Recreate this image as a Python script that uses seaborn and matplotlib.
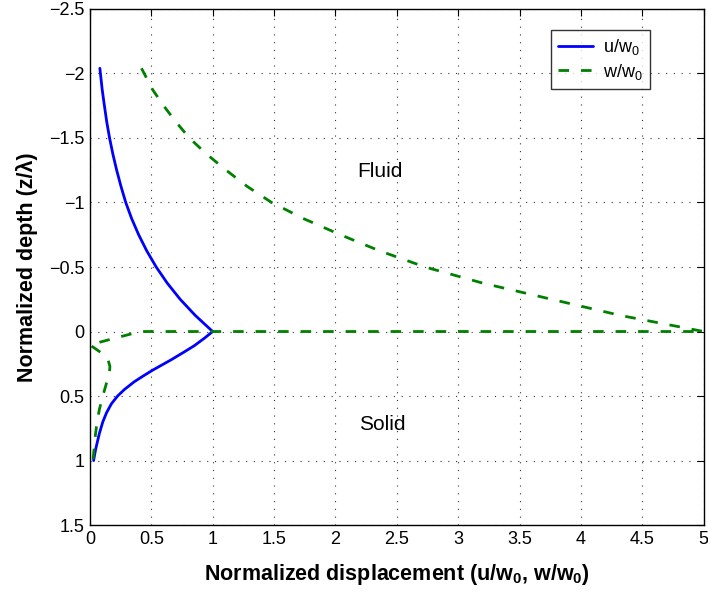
import matplotlib
matplotlib.use("Agg")
import matplotlib.pyplot as plt
import seaborn as sns
import pandas as pd

# Fluid side (z < 0)
z_fluid = [-2.04, -1.875, -1.75, -1.625, -1.5, -1.375, -1.25, -1.125, -1.0,
           -0.875, -0.75, -0.625, -0.5, -0.375, -0.25, -0.125, 0.0]
u_fluid = [0.081, 0.10, 0.118, 0.137, 0.160, 0.187, 0.218, 0.253, 0.292,
           0.34, 0.397, 0.463, 0.54, 0.63, 0.735, 0.858, 1.0]
w_fluid = [0.42, 0.51, 0.60, 0.70, 0.81, 0.95, 1.11, 1.28, 1.48,
           1.74, 2.04, 2.36, 2.73, 3.20, 3.76, 4.32, 5.0]

# Solid side (z > 0)
z_solid_u = [0.0, 0.05, 0.11, 0.16, 0.22, 0.26, 0.30, 0.35, 0.39, 0.45, 0.50,
             0.56, 0.63, 0.70, 0.79, 0.85, 0.92, 1.0]
u_solid = [1.0, 0.935, 0.85, 0.765, 0.66, 0.585, 0.51, 0.425, 0.36, 0.28, 0.225,
           0.175, 0.135, 0.105, 0.077, 0.062, 0.045, 0.03]

z_solid_w = [0.0, 0.02, 0.05, 0.08, 0.105, 0.13, 0.17, 0.22, 0.27, 0.33, 0.40,
             0.50, 0.60, 0.70, 0.80, 0.90, 1.0]
w_solid = [0.42, 0.33, 0.21, 0.09, 0.0, 0.04, 0.10, 0.148, 0.163, 0.158, 0.135,
           0.105, 0.078, 0.058, 0.045, 0.035, 0.025]

x_ticks = [0, 0.5, 1, 1.5, 2, 2.5, 3, 3.5, 4, 4.5, 5]
y_ticks = [-2.5, -2, -1.5, -1, -0.5, 0, 0.5, 1, 1.5]

sns.set_theme(style="white")
plt.rcParams['font.family'] = ['Liberation Sans', 'DejaVu Sans']
plt.rcParams['text.color'] = 'black'
plt.rcParams['axes.labelcolor'] = 'black'
plt.rcParams['mathtext.fontset'] = 'custom'
plt.rcParams['mathtext.rm'] = 'Liberation Sans'
plt.rcParams['mathtext.it'] = 'Liberation Sans'
plt.rcParams['mathtext.bf'] = 'Liberation Sans:bold'

df_u = pd.DataFrame({"disp": u_fluid + u_solid, "z": z_fluid + z_solid_u})
df_w = pd.DataFrame({"disp": w_fluid + w_solid, "z": z_fluid + z_solid_w})

fig = plt.figure(figsize=(7.08, 5.94), dpi=100)
ax = fig.add_axes([0.127, 0.116, 0.867, 0.869])

sns.lineplot(data=df_u, x="disp", y="z", sort=False, estimator=None,
             color="#0000ff", linewidth=2, label=r"u/w$_0$", ax=ax)
sns.lineplot(data=df_w, x="disp", y="z", sort=False, estimator=None,
             color="#008000", linewidth=2, label=r"w/w$_0$", ax=ax)
ax.lines[1].set_dashes((3.8, 4.3))

ax.set_xlim(0, 5)
ax.set_ylim(1.5, -2.5)
ax.set_xticks(x_ticks)
ax.set_xticklabels([f"{t:g}" for t in x_ticks])
ax.set_yticks(y_ticks)
ax.set_yticklabels([f"{t:g}".replace("-", "\u2212") for t in y_ticks])
ax.tick_params(direction="in", length=5, width=0.8, top=True, right=True,
               labelsize=13, colors="black", pad=4)
ax.grid(True, color="#333333", linestyle=(0, (1, 6)), linewidth=0.8)
for sp in ax.spines.values():
    sp.set_color("black")
    sp.set_linewidth(1.0)

ax.set_xlabel(r"Normalized displacement (u/w$_\mathbf{0}$, w/w$_\mathbf{0}$)",
              fontsize=15.5, fontweight="bold", labelpad=10)
ax.set_ylabel("Normalized depth (z/\u03bb)", fontsize=15.5, fontweight="bold",
              labelpad=8)

ax.text(2.36, -1.24, "Fluid", fontsize=15, ha="center", va="center")
ax.text(2.38, 0.72, "Solid", fontsize=15, ha="center", va="center")

leg = ax.legend(loc="upper right", bbox_to_anchor=(0.913, 0.959), fontsize=13,
                frameon=True, fancybox=False, handlelength=1.9,
                borderpad=0.4, labelspacing=0.25, handletextpad=0.6,
                borderaxespad=0)
leg.get_frame().set_edgecolor("black")
leg.get_frame().set_linewidth(1.0)
leg.get_lines()[1].set_dashes((3.8, 4.3))

fig.savefig("out.png", dpi=100)
